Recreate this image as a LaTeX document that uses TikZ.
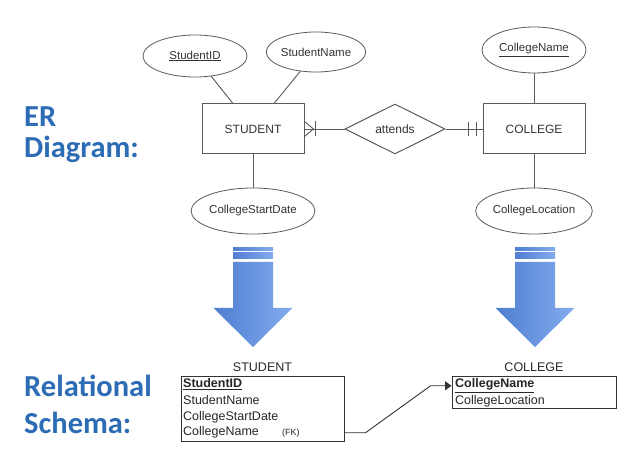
\documentclass[tikz,border=0pt]{standalone}
\usepackage{fontspec}
\setmainfont{Liberation Sans}
\newfontfamily\headfont{Carlito}
\usetikzlibrary{arrows.meta,positioning,shapes.geometric,calc}
\definecolor{erGray}{RGB}{90,90,90}
\definecolor{erText}{RGB}{50,50,50}
\definecolor{headBlue}{RGB}{43,108,181}
\definecolor{arrowDark}{RGB}{78,126,210}
\definecolor{arrowLight}{RGB}{132,172,238}

\begin{document}
\begin{tikzpicture}[x=1pt,y=1pt,
    entity/.style={draw=erGray, line width=1pt, minimum width=102pt, minimum height=50pt,
      inner sep=0pt, text=erText, font=\fontsize{12}{14}\selectfont},
    attr/.style={ellipse, draw=erGray, line width=0.8pt, minimum width=104pt, minimum height=46pt,
      inner sep=0pt, text=erText, font=\fontsize{11.5}{14}\selectfont},
    rel/.style={diamond, aspect=2, draw=erGray, line width=1pt, minimum width=100pt,
      minimum height=50pt, inner sep=0pt, text=erText, font=\fontsize{12}{14}\selectfont},
    erline/.style={erGray, line width=0.9pt},
    head/.style={anchor=base west, inner sep=0pt, text=headBlue,
      font=\headfont\bfseries\fontsize{30.5}{36}\selectfont},
    reltable/.style={draw=black!80, line width=0.9pt, inner sep=0pt},
    tabtitle/.style={inner sep=0pt, text=black!85, font=\fontsize{12.5}{14}\selectfont},
    row/.style={anchor=base west, inner sep=0pt, text=black!85, font=\fontsize{12.5}{14}\selectfont},
    fkline/.style={black!80, line width=0.9pt}
  ]
  \useasboundingbox (0,0) rectangle (633,464);
  % Headings
  \node[head] (er) at (24,337) {ER};
  \node[head] (diag) at (24,306) {Diagram:};
  \node[head] (relat) at (24,67) {Relational};
  \node[head] (schema) at (24,30) {Schema:};
  % ER diagram
  \node[entity] (stu) at (253,335) {STUDENT};
  \node[rel] (att) at (395,335) {attends};
  \node[entity] (col) at (534,335) {COLLEGE};
  \node[attr, minimum height=42pt] (sid) at (195,408) {\underline{StudentID}};
  \node[attr, minimum width=98pt, minimum height=40pt] (sname) at (316,412) {StudentName};
  \node[attr] (cname) at (534,414) {\underline{CollegeName}};
  \node[attr] (csd) at (253,253) {CollegeStartDate};
  \node[attr] (cloc) at (534,253) {CollegeLocation};
  \draw[erline] (sid) -- ([xshift=-20pt]stu.north);
  \draw[erline] (sname) -- ([xshift=21pt]stu.north);
  \draw[erline] (stu) -- (csd);
  \draw[erline] (cname) -- (col);
  \draw[erline] (col) -- (cloc);
  \draw[erline] (att.west) -- (stu.east);
  \draw[erline] (att.east) -- (col.west);
  % many side at STUDENT
  \draw[erline] ([yshift=7.5pt]stu.east) -- ([xshift=9pt]stu.east) -- ([yshift=-7.5pt]stu.east);
  \draw[erline] ([xshift=11pt,yshift=7.5pt]stu.east) -- ([xshift=11pt,yshift=-7.5pt]stu.east);
  % one and only one at COLLEGE
  \draw[erline] ([xshift=-6pt,yshift=7pt]col.west) -- ([xshift=-6pt,yshift=-7pt]col.west);
  \draw[erline] ([xshift=-14pt,yshift=7pt]col.west) -- ([xshift=-14pt,yshift=-7pt]col.west);
  % Big arrows
  \shade[left color=arrowDark, right color=arrowLight] (233,216) rectangle (273,213);
  \shade[left color=arrowDark, right color=arrowLight] (233,211) rectangle (273,205);
  \shade[left color=arrowDark, right color=arrowLight]
    (233,202) -- (273,202) -- (273,156) -- (292.5,156) -- (253,117) -- (213.5,156) -- (233,156) -- cycle;
  \shade[left color=arrowDark, right color=arrowLight] (515,216) rectangle (555,213);
  \shade[left color=arrowDark, right color=arrowLight] (515,211) rectangle (555,205);
  \shade[left color=arrowDark, right color=arrowLight]
    (515,202) -- (555,202) -- (555,156) -- (574.5,156) -- (535,117) -- (495.5,156) -- (515,156) -- cycle;
  % Relational schema
  \node[reltable, minimum width=163pt, minimum height=65pt] (stab) at (262.5,55.5) {};
  \node[reltable, minimum width=164pt, minimum height=32pt] (ctab) at (534,72) {};
  \node[tabtitle, above=4pt of stab] (stitle) {STUDENT};
  \node[tabtitle, above=4pt of ctab] (ctitle) {COLLEGE};
  \node[row] (sidrow) at (183,76) {\underline{\textbf{StudentID}}};
  \node[row] (snrow) at (183,59) {StudentName};
  \node[row] (csdrow) at (183,43) {CollegeStartDate};
  \node[row] (fkrow) at (183,28) {CollegeName};
  \node[row, font=\fontsize{9}{10}\selectfont] (fknote) at (282,28) {(FK)};
  \node[row] (cnrow) at (455,76) {\underline{\textbf{CollegeName}}};
  \node[row] (clrow) at (455,59) {CollegeLocation};
  \draw[fkline, -{Triangle[length=6.5pt,width=9pt]}] (fkrow.east -| stab.east) -- ++(21,0)
    -- ($(cnrow.east -| ctab.west)+(-21,0)$) -- (cnrow.east -| ctab.west);
\end{tikzpicture}
\end{document}
